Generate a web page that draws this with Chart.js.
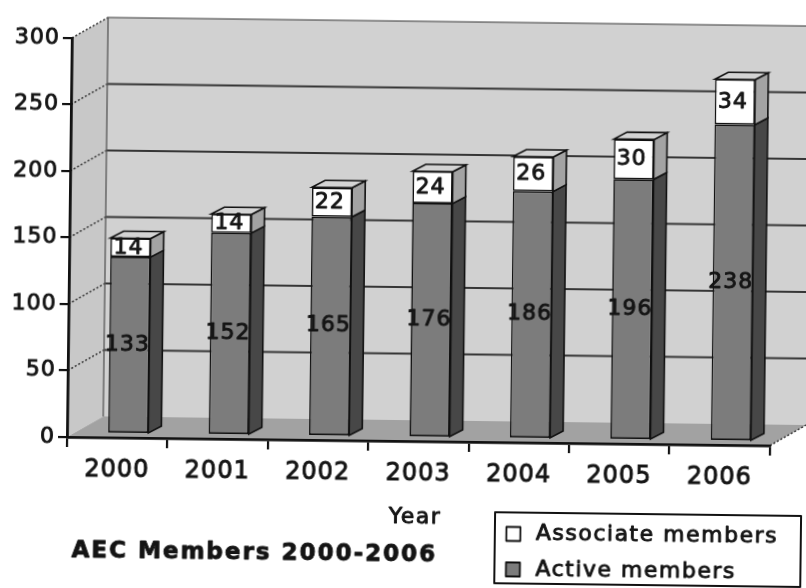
<!DOCTYPE html>
<html>
<head>
<meta charset="utf-8">
<script src="https://cdn.jsdelivr.net/npm/chart.js@4/dist/chart.umd.min.js"></script>
<style>
  html, body { margin: 0; padding: 0; background: #ffffff; overflow: hidden; }
  #wrap { position: absolute; left: 0; top: 0; width: 806px; height: 588px;
          transform-origin: 67px 437px; transform: rotate(0.7deg); }
  canvas { display: block; }
</style>
</head>
<body>
<div id="wrap"><canvas id="c" width="806" height="588"></canvas></div>
<script>
// ---- data ----
const categories = ['2000', '2001', '2002', '2003', '2004', '2005', '2006'];
const activeMembers = [133, 152, 165, 176, 186, 196, 238];
const associateMembers = [14, 14, 22, 24, 26, 30, 34];
const yMin = 0;
const yMax = 300;
const yStep = 50;
const seriesNames = ['Active members', 'Associate members'];
const legendOrder = ['Associate members', 'Active members'];
const xTitle = 'Year';
const chartTitle = 'AEC Members 2000-2006';

// ---- styling ----
const FONT = 'DejaVu Sans';
const TEXT = '#141414';
const STROKE_W = 0.9;
const D = { x: 36, y: -21 };   // depth of the 3D box (back wall offset)
const BO = { x: 11, y: -4 };   // bar front-face offset
const BD = { x: 13, y: -7 };   // bar depth
const colors = {
  active: '#7c7c7c', activeSide: '#474747',
  assoc: '#ffffff', assocSide: '#a3a3a3', assocTop: '#d4d4d4',
  backWall: '#d1d1d1', leftWall: '#c8c8c8', floor: '#a2a2a2', grid: '#363636'
};

function poly(ctx, pts, fill, stroke, lw) {
  ctx.beginPath();
  ctx.moveTo(pts[0][0], pts[0][1]);
  for (let i = 1; i < pts.length; i++) ctx.lineTo(pts[i][0], pts[i][1]);
  ctx.closePath();
  if (fill) { ctx.fillStyle = fill; ctx.fill(); }
  if (stroke) { ctx.strokeStyle = stroke; ctx.lineWidth = lw || 1; ctx.stroke(); }
}
function line(ctx, x1, y1, x2, y2, color, lw, dash) {
  ctx.beginPath();
  ctx.setLineDash(dash || []);
  ctx.moveTo(x1, y1); ctx.lineTo(x2, y2);
  ctx.strokeStyle = color; ctx.lineWidth = lw; ctx.stroke();
  ctx.setLineDash([]);
}
function boldText(ctx, s, x, y) {
  ctx.fillStyle = TEXT;
  ctx.strokeStyle = TEXT;
  ctx.lineWidth = STROKE_W;
  ctx.lineJoin = 'round';
  ctx.strokeText(s, x, y);
  ctx.fillText(s, x, y);
}

const threeD = {
  id: 'threeD',
  beforeDraw(chart) {
    const ctx = chart.ctx, ca = chart.chartArea, ys = chart.scales.y;
    ctx.save();
    ctx.fillStyle = '#ffffff';
    ctx.fillRect(0, 0, chart.width, chart.height);
    const y0 = ys.getPixelForValue(yMin), yT = ys.getPixelForValue(yMax);
    const L = ca.left, R = ca.right;
    poly(ctx, [[L, y0], [L + D.x, y0 + D.y], [L + D.x, yT + D.y], [L, yT]], colors.leftWall);
    poly(ctx, [[L + D.x, yT + D.y], [R + D.x, yT + D.y], [R + D.x, y0 + D.y], [L + D.x, y0 + D.y]], colors.backWall);
    poly(ctx, [[L, y0], [R, y0], [R + D.x, y0 + D.y], [L + D.x, y0 + D.y]], colors.floor);
    ys.ticks.forEach(t => {
      if (t.value <= yMin) return;
      const py = ys.getPixelForValue(t.value);
      line(ctx, L + D.x, py + D.y, R + D.x, py + D.y, colors.grid, t.value === yMax ? 1.2 : 2);
      line(ctx, L, py, L + D.x, py + D.y, '#333', 1.5, [2, 2]);
    });
    line(ctx, L + D.x, yT + D.y, L + D.x, y0 + D.y, '#555', 1.3);
    line(ctx, R, y0, R + D.x, y0 + D.y, '#333', 1.5, [2, 2]);
    ctx.restore();
    ctx.letterSpacing = '1px';
  },
  beforeDatasetsDraw(chart) {
    chart.ctx.save();
    chart.ctx.translate(BO.x, BO.y);
  },
  afterDatasetsDraw(chart) {
    const ctx = chart.ctx;
    const n = chart.data.datasets.length;
    chart.data.datasets.forEach((ds, di) => {
      const meta = chart.getDatasetMeta(di);
      meta.data.forEach(el => {
        const p = el.getProps(['x', 'y', 'base', 'width'], true);
        const left = p.x - p.width / 2, right = p.x + p.width / 2;
        const top = Math.min(p.y, p.base), bottom = Math.max(p.y, p.base);
        poly(ctx, [[right, top], [right + BD.x, top + BD.y], [right + BD.x, bottom + BD.y], [right, bottom]],
             ds.sideColor, '#111', 1.6);
        if (di === n - 1) {
          poly(ctx, [[left, top], [left + BD.x, top + BD.y], [right + BD.x, top + BD.y], [right, top]],
               ds.topColor, '#111', 1.6);
        }
      });
    });
    ctx.restore();
    // data labels
    ctx.save();
    ctx.font = '22px "' + FONT + '"';
    ctx.letterSpacing = '1px';
    ctx.textAlign = 'center';
    ctx.textBaseline = 'middle';
    chart.data.datasets.forEach((ds, di) => {
      const meta = chart.getDatasetMeta(di);
      meta.data.forEach((el, i) => {
        const p = el.getProps(['x', 'y', 'base'], true);
        boldText(ctx, String(ds.data[i]), p.x + BO.x - 2, (p.y + p.base) / 2 + BO.y);
      });
    });
    ctx.restore();
  },
  afterDraw(chart) {
    const ctx = chart.ctx;
    ctx.save();
    // axis title
    ctx.font = '22px "' + FONT + '"';
    ctx.letterSpacing = '1.5px';
    ctx.textAlign = 'center';
    ctx.textBaseline = 'middle';
    boldText(ctx, xTitle, 416, 513);
    // chart title
    ctx.font = 'bold 23px "' + FONT + '"';
    ctx.letterSpacing = '2px';
    ctx.textAlign = 'left';
    boldText(ctx, chartTitle, 73, 551);
    // legend
    ctx.fillStyle = '#ffffff';
    ctx.fillRect(496, 507, 306, 71);
    ctx.strokeStyle = '#111';
    ctx.lineWidth = 2;
    ctx.strokeRect(496, 507, 306, 71);
    const sw = { 'Associate members': colors.assoc, 'Active members': colors.active };
    const rowsY = [528.5, 564];
    ctx.font = '22px "' + FONT + '"';
    ctx.letterSpacing = '1.5px';
    ctx.textBaseline = 'middle';
    legendOrder.forEach((name, i) => {
      const cy = rowsY[i];
      ctx.fillStyle = sw[name];
      ctx.fillRect(507.5, cy - 7, 14, 14);
      ctx.strokeStyle = '#111';
      ctx.lineWidth = 1.8;
      ctx.strokeRect(507.5, cy - 7, 14, 14);
      boldText(ctx, name, 537, cy);
    });
    ctx.restore();
  }
};

new Chart(document.getElementById('c'), {
  type: 'bar',
  data: {
    labels: categories,
    datasets: [
      { label: seriesNames[0], data: activeMembers, backgroundColor: colors.active,
        sideColor: colors.activeSide, topColor: colors.active,
        borderColor: '#111', borderWidth: 1.6, borderSkipped: false },
      { label: seriesNames[1], data: associateMembers, backgroundColor: colors.assoc,
        sideColor: colors.assocSide, topColor: colors.assocTop,
        borderColor: '#111', borderWidth: 1.6, borderSkipped: false }
    ]
  },
  options: {
    responsive: false,
    animation: false,
    events: [],
    barPercentage: 0.4,
    categoryPercentage: 1.0,
    layout: { padding: { left: 0, top: 38, right: 36, bottom: 0 } },
    plugins: { legend: { display: false }, tooltip: { enabled: false }, title: { display: false } },
    scales: {
      x: {
        stacked: true,
        grid: { display: true, drawOnChartArea: false, drawTicks: true, tickLength: 10, color: '#111', lineWidth: 2.2, offset: true },
        border: { display: true, color: '#111', width: 2.8 },
        ticks: { color: TEXT, textStrokeColor: TEXT, textStrokeWidth: STROKE_W,
                 font: { family: FONT, size: 24 }, padding: 8, maxRotation: 0, minRotation: 0 },
        afterFit(s) { s.height = 151; }
      },
      y: {
        stacked: true,
        min: yMin, max: yMax,
        grid: { display: true, drawOnChartArea: false, drawTicks: true, tickLength: 9, color: '#111', lineWidth: 2.2 },
        border: { display: true, color: '#111', width: 2.8 },
        ticks: { stepSize: yStep, color: TEXT, textStrokeColor: TEXT, textStrokeWidth: STROKE_W,
                 font: { family: FONT, size: 22 }, padding: 3 },
        afterFit(s) { s.width = 67; }
      }
    }
  },
  plugins: [threeD]
});
</script>
</body>
</html>
